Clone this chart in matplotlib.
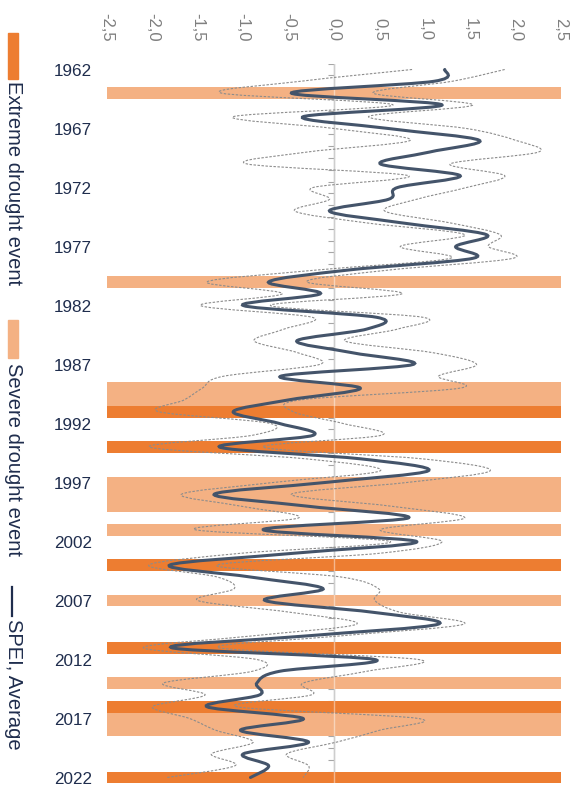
import numpy as np
import matplotlib
matplotlib.use("Agg")
import matplotlib.pyplot as plt
from matplotlib.path import Path
from matplotlib.patches import PathPatch, Rectangle
from matplotlib.lines import Line2D

plt.rcParams["font.family"] = ["Liberation Sans", "DejaVu Sans"]

years = list(range(1962, 2023))

spei_avg = [
    1.22, 1.10, -0.47, 1.19, -0.34, 0.60, 1.60, 1.05, 0.51, 1.39,
    0.70, 0.60, -0.05, 0.75, 1.68, 1.34, 1.53, 0.15, -0.72, -0.15,
    -1.00, 0.47, 0.36, -0.41, 0.20, 0.87, -0.59, 0.29, -0.50, -1.11,
    -0.60, -0.23, -1.26, 0.30, 1.04, -0.10, -1.32, -0.30, 0.82, -0.78,
    0.91, -0.45, -1.81, -0.93, -0.12, -0.76, 0.43, 1.15, -0.30, -1.79,
    0.45, -0.60, -0.85, -0.82, -1.40, -0.34, -1.03, -0.28, -1.00, -0.72,
    -0.92,
]
spei_upper = [
    1.88, 1.30, 0.43, 1.53, 0.38, 1.46, 2.00, 2.25, 1.28, 1.88,
    1.46, 0.91, 0.56, 1.28, 1.83, 1.70, 1.97, 0.60, -0.30, 0.75,
    -0.70, 0.98, 0.70, 0.12, 1.09, 1.57, 1.15, 1.39, -0.37, -0.45,
    0.10, 0.52, -0.78, 0.98, 1.72, 0.80, -0.47, 0.62, 1.44, 0.51,
    1.19, 0.50, -1.29, 0.07, 0.49, 0.45, 0.73, 1.43, 0.07, -1.27,
    0.93, 0.36, -0.34, -0.25, -1.07, 0.93, 0.50, 0.03, -0.52, -0.28,
    -0.34,
]
spei_lower = [
    0.86, -0.37, -1.24, 0.65, -1.11, 0.00, 0.84, -0.30, -0.96, 0.82,
    -0.23, -0.05, -0.43, 0.36, 1.44, 0.73, 1.28, -0.20, -1.40, -0.57,
    -1.47, -0.24, -0.55, -0.88, -0.40, -0.16, -1.22, -1.45, -1.65, -1.93,
    -0.70, -0.90, -2.03, -0.30, 0.51, -0.67, -1.68, -1.03, -0.39, -1.53,
    0.62, -1.03, -2.04, -1.29, -1.10, -1.50, -0.48, 0.25, -0.90, -2.10,
    -0.85, -0.90, -1.88, -1.42, -2.00, -1.59, -1.30, -0.89, -1.35, -1.09,
    -1.84,
]

severe_years = [1964, 1980, 1989, 1990, 1997, 1998, 1999, 2001, 2007, 2014, 2017, 2018]
extreme_years = [1991, 1994, 2004, 2011, 2016, 2022]

x_ticks = [-2.5, -2.0, -1.5, -1.0, -0.5, 0.0, 0.5, 1.0, 1.5, 2.0, 2.5]
year_ticks = years[::5]

EXTREME = "#ED7D31"
SEVERE = "#F4B183"
LINE = "#44546A"
NAVY = "#1F2D4D"


def smooth_path(xs, ys):
    # Bezier path through the points, same smoothing as spreadsheet "smoothed line"
    pts = np.column_stack([xs, ys]).astype(float)
    padded = np.vstack([pts[0], pts, pts[-1]])
    verts = [pts[0]]
    codes = [Path.MOVETO]
    for i in range(len(pts) - 1):
        p0, p1, p2, p3 = padded[i], padded[i + 1], padded[i + 2], padded[i + 3]
        verts += [p1 + (p2 - p0) / 6, p2 - (p3 - p1) / 6, p2]
        codes += [Path.CURVE4] * 3
    return Path(verts, codes)


fig = plt.figure(figsize=(5.8, 7.89), dpi=100)
ax = fig.add_axes([107 / 580, 1 - 783.4 / 789, 454 / 580, (783.4 - 63.6) / 789])

ax.set_xlim(-2.5, 2.5)
ax.set_ylim(2022.5, 1961.5)
for s in ax.spines.values():
    s.set_visible(False)

# zero axis with yearly tick marks
ax.axvline(0, color="#A6A6A6", lw=1.0, zorder=1)
edges = np.arange(years[0] - 0.5, years[-1] + 1.0, 1.0)
ax.hlines(edges, -0.07, 0, color="#A6A6A6", lw=0.8, zorder=1)

# drought bands
ax.barh(severe_years, 5.0, left=-2.5, height=1.0, color=SEVERE,
        linewidth=0, zorder=2)
ax.barh(extreme_years, 5.0, left=-2.5, height=1.0, color=EXTREME,
        linewidth=0, zorder=2)
ax.axvline(0, color="white", lw=1.0, alpha=0.45, zorder=3)

for series in (spei_upper, spei_lower):
    ax.add_patch(PathPatch(smooth_path(series, years), fill=False,
                           edgecolor="#8C8C8C", lw=0.8, linestyle=(0, (2.2, 1.4)),
                           zorder=4))
ax.add_patch(PathPatch(smooth_path(spei_avg, years), fill=False,
                       edgecolor=LINE, lw=2.2, capstyle="round", zorder=5))

ax.xaxis.tick_top()
ax.set_xticks(x_ticks)
ax.set_xticklabels([f"{v:.1f}".replace(".", ",") for v in x_ticks],
                   rotation=-90, ha="center", va="bottom")
ax.tick_params(axis="x", length=0, pad=16, labelsize=12, labelcolor="#7F7F7F")
ax.set_yticks(year_ticks)
ax.set_yticklabels([str(y) for y in year_ticks])
ax.tick_params(axis="y", length=0, pad=11, labelsize=12.3, labelcolor=NAVY)

# legend running down the left edge
def fx(px):
    return px / 580


def fy(py):
    return 1 - py / 789


fig.add_artist(Rectangle((fx(8), fy(79)), fx(10), 46 / 789, color=EXTREME,
                         transform=fig.transFigure))
fig.text(fx(13), fy(81), "Extreme drought event", rotation=-90, ha="center",
         va="top", fontsize=14.5, color=NAVY)
fig.add_artist(Rectangle((fx(8), fy(358)), fx(10), 38 / 789, color=SEVERE,
                         transform=fig.transFigure))
fig.text(fx(13), fy(363), "Severe drought event", rotation=-90, ha="center",
         va="top", fontsize=14.5, color=NAVY)
fig.add_artist(Line2D([fx(12), fx(12)], [fy(587), fy(616)], color=NAVY, lw=1.6,
                      transform=fig.transFigure))
fig.text(fx(13), fy(619), "SPEI, Average", rotation=-90, ha="center",
         va="top", fontsize=14.5, color=NAVY)

fig.savefig("out.png", dpi=100)
